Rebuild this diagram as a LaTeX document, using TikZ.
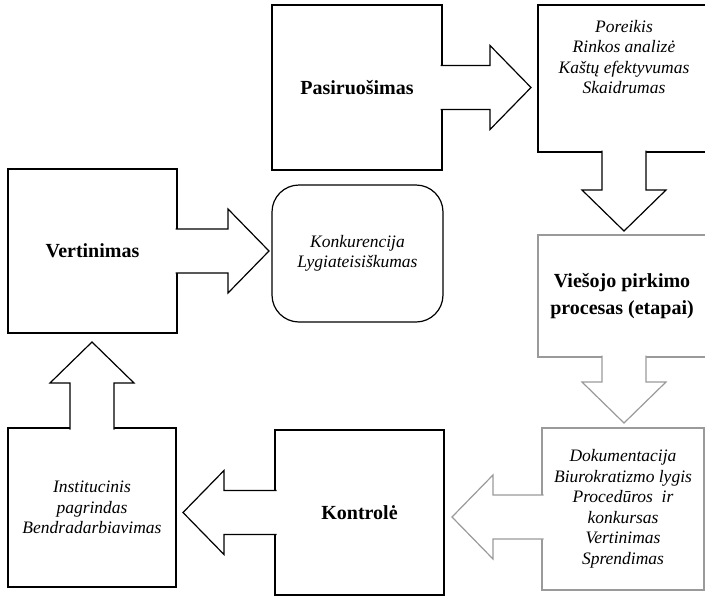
\documentclass[tikz,border=0pt]{standalone}
\usepackage{fontspec}
\setmainfont{Liberation Serif}
\usetikzlibrary{positioning,calc}
\definecolor{pale}{HTML}{9A9A9A}
\tikzset{
  stage/.style={draw=black,line width=1.2pt,inner sep=4pt,outer sep=0pt,align=center,
    font=\fontsize{20}{26.5}\selectfont\bfseries},
  facts/.style={stage,font=\fontsize{17.5}{20.5}\selectfont\itshape},
  soft/.style={draw=pale},
  bigarrow/.style={draw=black,line width=1.2pt,line join=miter,fill=white},
}
% block arrow: start point, direction, shaft length
\newcommand{\blockarrow}[4][]{%
  \begin{scope}[shift={#2},rotate=#3]
    \fill[white] (-1.5,21.5) rectangle (1,-21.5);
    \draw[bigarrow,#1] (-1.5,22)--(#4,22)--(#4,42)--({#4+41},0)--(#4,-42)--(#4,-22)--(-1.5,-22);
  \end{scope}}

\begin{document}
\begin{tikzpicture}[x=1pt,y=-1pt]
  \useasboundingbox (0,0) rectangle (705,603);
  \clip (0,0) rectangle (705,603);
  % boxes
  \node[stage,minimum width=170pt,minimum height=165pt] (pas) at (357,87.5) {Pasiruošimas};
  \node[facts,minimum width=172pt,minimum height=147pt] (por) at (624,78.5) {};
  \node[facts,draw=none,anchor=north] (portxt) at ($(por.north)+(0,11)$)
    {Poreikis\\Rinkos analizė\\Kaštų efektyvumas\\Skaidrumas};
  \node[stage,soft,minimum width=168pt,minimum height=122pt] (vie) at (622,296)
    {Viešojo pirkimo\\procesas (etapai)};
  \node[facts,soft,minimum width=162pt,minimum height=162pt] (dok) at (623,509)
    {Dokumentacija\\Biurokratizmo lygis\\Procedūros\ \ ir\\konkursas\\Vertinimas\\Sprendimas};
  \node[stage,minimum width=169pt,minimum height=165pt] (kon) at (359.5,512.5) {Kontrolė};
  \node[facts,minimum width=168pt,minimum height=159pt] (ins) at (92,507.5)
    {Institucinis\\pagrindas\\Bendradarbiavimas};
  \node[stage,minimum width=169pt,minimum height=164pt] (ver) at (92.5,251) {Vertinimas};
  \node[facts,rounded corners=27pt,minimum width=171pt,minimum height=137pt] (kkr) at (357.5,253.5)
    {Konkurencija\\Lygiateisiškumas};
  % arrows
  \blockarrow{(pas.east)}{0}{48}
  \blockarrow{(ver.east)}{0}{51}
  \blockarrow{(por.south)}{-90}{38}
  \blockarrow[soft]{($(vie.south)+(2,0)$)}{-90}{25}
  \blockarrow[soft]{($(dok.west)+(0,8)$)}{180}{49}
  \blockarrow{(kon.west)}{180}{51}
  \blockarrow{(ins.north)}{90}{45}
\end{tikzpicture}
\end{document}
